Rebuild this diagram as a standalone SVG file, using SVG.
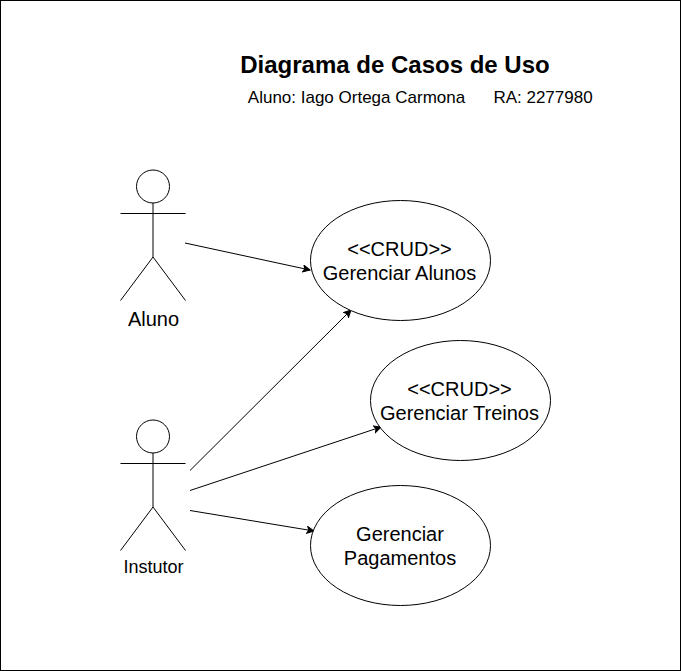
<svg xmlns="http://www.w3.org/2000/svg" width="681" height="671" viewBox="0 0 681 671">
<style>
text{font-family:"Liberation Sans",Arial,sans-serif;fill:#000;text-anchor:middle}
.s{fill:none;stroke:#000;stroke-width:1}
.e{fill:#fff;stroke:#000;stroke-width:1}
.l{font-size:20px}
.c{fill:none;stroke:#000;stroke-width:1;marker-end:url(#a)}
</style>
<defs><marker id="a" markerUnits="userSpaceOnUse" markerWidth="10" markerHeight="10" refX="7.5" refY="4" orient="auto"><path d="M0.5 0.5L7.500 4L0.5 7.500L2.250 4Z" fill="#000" stroke="#000"/></marker></defs>
<rect x="0.5" y="0.5" width="680" height="670" fill="#fff" stroke="#000"/>
<text x="395" y="73" font-size="24" font-weight="bold">Diagrama de Casos de Uso</text>
<text x="420" y="103" font-size="17"><tspan x="356.500">Aluno: Iago Ortega Carmona</tspan><tspan x="543">RA: 2277980</tspan></text>
<g id="connectors">
<path class="c" d="M185 243L310 270"/>
<path class="c" d="M190 470.500L351 310"/>
<path class="c" d="M190 490.500L381 427"/>
<path class="c" d="M190 510.500L314 531"/>
</g>
<g id="aluno"><circle class="s" cx="153" cy="186.500" r="16.500"/><path class="s" d="M153 203V257M120.500 213.500H185.500M153 257L120.500 300.500M153 257L185.500 300.500"/><text class="l" x="153.500" y="326">Aluno</text></g>
<g id="instutor"><circle class="s" cx="153" cy="436.500" r="16.500"/><path class="s" d="M153 453V507M120.500 463.500H185.500M153 507L120.500 550.500M153 507L185.500 550.500"/><text x="153.500" y="573" font-size="18">Instutor</text></g>
<g id="alunos"><ellipse class="e" cx="400.500" cy="260.500" rx="90" ry="60"/><text class="l" x="399.500" y="256">&lt;&lt;CRUD&gt;&gt;</text><text class="l" x="399.500" y="280">Gerenciar Alunos</text></g>
<g id="treinos"><ellipse class="e" cx="460.500" cy="400.500" rx="90" ry="60"/><text class="l" x="459.500" y="396">&lt;&lt;CRUD&gt;&gt;</text><text class="l" x="459.500" y="420">Gerenciar Treinos</text></g>
<g id="pagamentos"><ellipse class="e" cx="400.500" cy="545.500" rx="90" ry="60"/><text class="l" x="400" y="541">Gerenciar</text><text class="l" x="400" y="565">Pagamentos</text></g>
</svg>
